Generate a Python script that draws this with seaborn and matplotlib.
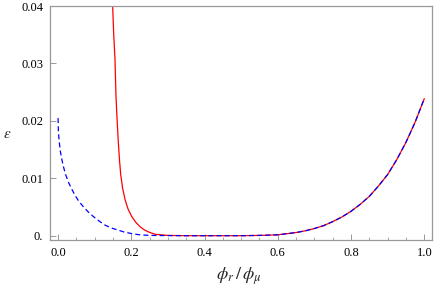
import numpy as np
import matplotlib
matplotlib.use("Agg")
import matplotlib.pyplot as plt
from matplotlib.ticker import MultipleLocator, FixedLocator, FixedFormatter
import seaborn as sns

# values
red_x = [0.149, 0.152, 0.1555, 0.158, 0.161, 0.1645, 0.168, 0.171, 0.176, 0.183,
         0.191, 0.201, 0.212, 0.224, 0.237, 0.251, 0.265, 0.280, 0.300, 0.350,
         0.400, 0.450, 0.500, 0.550, 0.600, 0.625, 0.650, 0.675, 0.700, 0.725,
         0.750, 0.775, 0.800, 0.825, 0.850, 0.875, 0.900, 0.925, 0.950, 0.975,
         1.000]
red_y = [0.0400, 0.0350, 0.0306, 0.0245, 0.0205, 0.0163, 0.0130, 0.0107, 0.0084, 0.0063,
         0.0047, 0.0034, 0.0024, 0.0016, 0.0010, 0.0006, 0.0003, 0.0002, 0.0001, 0.00005,
         0.00005, 0.00005, 0.00005, 0.0001, 0.0002, 0.0004, 0.0006, 0.0009, 0.0013, 0.0018,
         0.0025, 0.0033, 0.0043, 0.0055, 0.0069, 0.0087, 0.0107, 0.0133, 0.0163, 0.0198,
         0.0239]

blue_x = [0.000, 0.001, 0.0055, 0.010, 0.0145, 0.020, 0.028, 0.037, 0.046, 0.057,
          0.069, 0.082, 0.096, 0.112, 0.128, 0.145, 0.160, 0.180, 0.205, 0.225,
          0.250, 0.280, 0.300, 0.350, 0.400, 0.450, 0.500, 0.550, 0.600, 0.625,
          0.650, 0.675, 0.700, 0.725, 0.750, 0.775, 0.800, 0.825, 0.850, 0.875,
          0.900, 0.925, 0.950, 0.975, 1.000]
blue_y = [0.0205, 0.0179, 0.0150, 0.0134, 0.0121, 0.0108, 0.0094, 0.0082, 0.0071, 0.0060,
          0.0051, 0.0042, 0.0034, 0.0026, 0.0019, 0.0014, 0.0011, 0.0007, 0.00035, 0.0002,
          0.0001, 0.00008, 0.00007, 0.00005, 0.00005, 0.00005, 0.00005, 0.0001, 0.0002, 0.0004,
          0.0006, 0.0009, 0.0013, 0.0018, 0.0025, 0.0033, 0.0043, 0.0055, 0.0069, 0.0087,
          0.0107, 0.0133, 0.0163, 0.0198, 0.0239]

x_ticks = [0.0, 0.2, 0.4, 0.6, 0.8, 1.0]
x_labels = ["0.0", "0.2", "0.4", "0.6", "0.8", "1.0"]
y_ticks = [0.0, 0.01, 0.02, 0.03, 0.04]
y_labels = ["0.", "0.01", "0.02", "0.03", "0.04"]

sns.set_style("ticks")
plt.rcParams["font.family"] = "serif"
plt.rcParams["font.serif"] = ["Liberation Serif", "DejaVu Serif"]
plt.rcParams["mathtext.fontset"] = "stix"

fig = plt.figure(figsize=(4.36, 2.90), dpi=100)
ax = fig.add_axes([0.1147, 0.1724, 0.8761, 0.8069])

sns.lineplot(x=red_x, y=red_y, ax=ax, color="#ff0000", lw=0.9,
             sort=False, estimator=None)
sns.lineplot(x=blue_x, y=blue_y, ax=ax, color="#0000ff", lw=0.9,
             sort=False, estimator=None, linestyle=(0, (4, 2.5)))

ax.set_xlim(-0.022, 1.021)
ax.set_ylim(-0.0007, 0.04)

ax.xaxis.set_major_locator(FixedLocator(x_ticks))
ax.xaxis.set_major_formatter(FixedFormatter(x_labels))
ax.xaxis.set_minor_locator(MultipleLocator(0.05))
ax.yaxis.set_major_locator(FixedLocator(y_ticks))
ax.yaxis.set_major_formatter(FixedFormatter(y_labels))

frame = "#999999"
for s in ax.spines.values():
    s.set_color(frame)
    s.set_linewidth(0.9)
ax.tick_params(which="major", direction="in", length=4, width=0.7,
               color=frame, labelsize=9, labelcolor="black", pad=5)
ax.tick_params(which="minor", direction="in", length=2.2, width=0.6,
               color=frame)
ax.tick_params(axis="y", which="minor", left=False)

ax.set_xlabel(r"$\phi_r\,/\,\phi_\mu$", fontsize=13)
ax.xaxis.label.set_va("center")
ax.xaxis.set_label_coords(0.495, -0.155)
ax.set_ylabel(r"$\varepsilon$", fontsize=11, rotation=0)
ax.yaxis.label.set_va("center")
ax.yaxis.set_label_coords(-0.112, 0.45)

fig.savefig("out.png", dpi=100)
